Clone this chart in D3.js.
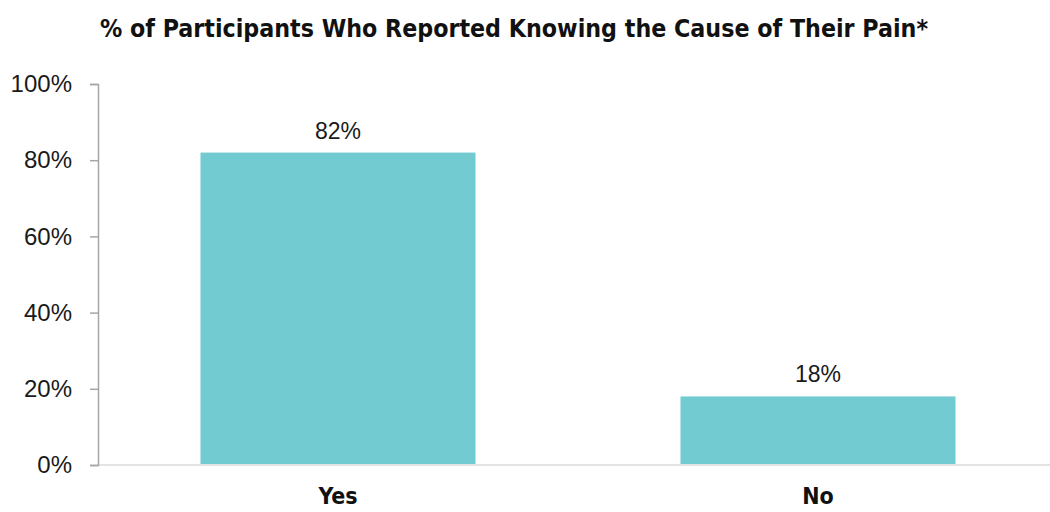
<!DOCTYPE html>
<html>
<head>
<meta charset="utf-8">
<script src="https://cdn.jsdelivr.net/npm/d3@7"></script>
<style>
	body { margin: 0; background: #fff; }
	.y.axis text { font-family: "Liberation Sans", Arial, sans-serif; font-size: 24px; fill: #1a1a1a; }
	.y.axis path, .y.axis line { stroke: #a6a6a6; stroke-width: 1.5; }
	.x.axis text { font-family: "Liberation Sans Narrow", "DejaVu Sans Condensed", sans-serif; font-weight: bold; font-size: 23px; fill: #111; }
	.x.axis path { stroke: #e4e4e4; stroke-width: 2; }
	.x.axis line { display: none; }
</style>
</head>
<body>
<div id="chart"></div>
<script>
//Data
var categories = ["Yes", "No"];
var values = [82, 18];
var tickValues = [0, 20, 40, 60, 80, 100];
var title = "% of Participants Who Reported Knowing the Cause of Their Pain*";

//SVG setup
var margin = { top: 84, right: 0, bottom: 47, left: 98 };
var width = 1050 - margin.left - margin.right;
var height = 512 - margin.top - margin.bottom;

var root = d3.select("#chart")
	.append("svg")
	.attr("width", 1050)
	.attr("height", 512);

var svg = root.append("g")
	.attr("transform", "translate(" + margin.left + "," + margin.top + ")");

//Scales
var x = d3.scaleBand()
	.domain(categories)
	.range([0, 960])
	.paddingInner(0.427)
	.paddingOuter(0.2135);

var y = d3.scaleLinear()
	.domain([0, 100])
	.range([height, 0]);

//Title
root.append("text")
	.attr("x", 100)
	.attr("y", 37)
	.attr("font-family", "'Liberation Sans Narrow', 'DejaVu Sans Condensed', sans-serif")
	.attr("font-weight", "bold")
	.attr("font-size", 25)
	.attr("fill", "#111")
	.attr("textLength", 828)
	.attr("lengthAdjust", "spacingAndGlyphs")
	.text(title);

//Bars
var bars = svg.selectAll(".bar")
	.data(categories.map(function(c, i) { return { cat: c, val: values[i] }; }))
	.enter()
	.append("g")
	.attr("class", "bar")
	.attr("transform", function(d) { return "translate(" + x(d.cat) + "," + y(d.val) + ")"; });

bars.append("rect")
	.attr("width", x.bandwidth())
	.attr("height", function(d) { return height - y(d.val); })
	.attr("fill", "#72cbd0");

bars.append("text")
	.attr("x", x.bandwidth() / 2)
	.attr("y", -14)
	.attr("text-anchor", "middle")
	.attr("font-family", "'Liberation Sans', Arial, sans-serif")
	.attr("font-size", 23)
	.attr("fill", "#1a1a1a")
	.text(function(d) { return d.val + "%"; });

//X axis (light baseline running to the edge)
var xAxis = svg.append("g")
	.attr("class", "x axis")
	.attr("transform", "translate(0," + height + ")")
	.call(d3.axisBottom(x).tickSize(0).tickSizeOuter(0).tickPadding(23));
xAxis.select(".domain").attr("d", "M0,0H" + width);

//Y axis
svg.append("g")
	.attr("class", "y axis")
	.call(d3.axisLeft(y)
		.tickValues(tickValues)
		.tickSize(8)
		.tickSizeOuter(8)
		.tickPadding(18)
		.tickFormat(function(d) { return d + "%"; }));
</script>
</body>
</html>
